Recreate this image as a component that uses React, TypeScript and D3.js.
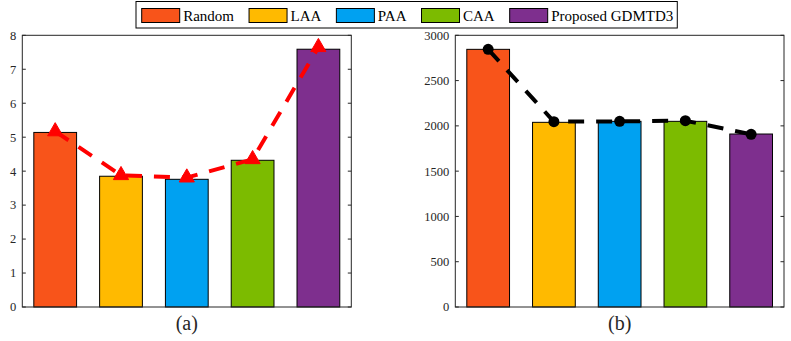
import React, { useEffect, useRef } from "react";
import * as d3 from "d3";

const categories = ["Random", "LAA", "PAA", "CAA", "Proposed GDMTD3"];
const colors = ["#F8541A", "#FFBA00", "#00A1F1", "#7CBB00", "#7E2F8E"];
const barsA = [5.14, 3.85, 3.76, 4.32, 7.59];
const lineA = [5.17, 3.88, 3.81, 4.35, 7.65];
const barsB = [2845, 2039, 2050, 2050, 1910];
const lineB = [2845, 2046, 2050, 2057, 1907];
const ticksA = [0, 1, 2, 3, 4, 5, 6, 7, 8];
const ticksB = [0, 500, 1000, 1500, 2000, 2500, 3000];
const panelLabels = ["(a)", "(b)"];

const W = 791;
const H = 341;
const FONT = "'Liberation Serif', 'DejaVu Serif', serif";
const AX = "#262626";

export default function App() {
  const ref = useRef<SVGSVGElement>(null);

  useEffect(() => {
    const svg = d3.select(ref.current);
    svg.selectAll("*").remove();

    const panels = [
      { x0: 22.3, x1: 351.3, bars: barsA, line: lineA, ticks: ticksA, max: 8, lineColor: "#FF0000", marker: "tri", label: panelLabels[0] },
      { x0: 455.3, x1: 784, bars: barsB, line: lineB, ticks: ticksB, max: 3000, lineColor: "#000000", marker: "circ", label: panelLabels[1] },
    ];
    const y0 = 35.3;
    const y1 = 307;

    panels.forEach((p) => {
      const g = svg.append("g");
      const x = d3.scaleLinear().domain([0.5, 5.5]).range([p.x0, p.x1]);
      const y = d3.scaleLinear().domain([0, p.max]).range([y1, y0]);
      const bw = (x(1) - x(0)) * 0.65;

      g.selectAll("rect.bar")
        .data(p.bars)
        .enter()
        .append("rect")
        .attr("x", (_d, i) => x(i + 1) - bw / 2)
        .attr("y", (d) => y(d))
        .attr("width", bw)
        .attr("height", (d) => y(0) - y(d))
        .attr("fill", (_d, i) => colors[i])
        .attr("stroke", "#000")
        .attr("stroke-width", 1);

      g.append("rect")
        .attr("x", p.x0)
        .attr("y", y0)
        .attr("width", p.x1 - p.x0)
        .attr("height", y1 - y0)
        .attr("fill", "none")
        .attr("stroke", AX)
        .attr("stroke-width", 1);

      p.ticks.forEach((t) => {
        const yy = y(t);
        g.append("line").attr("x1", p.x0).attr("x2", p.x0 + 3.5).attr("y1", yy).attr("y2", yy).attr("stroke", AX);
        g.append("line").attr("x1", p.x1).attr("x2", p.x1 - 3.5).attr("y1", yy).attr("y2", yy).attr("stroke", AX);
        g.append("text")
          .attr("x", p.x0 - 6)
          .attr("y", yy)
          .attr("dy", "0.35em")
          .attr("text-anchor", "end")
          .attr("font-family", FONT)
          .attr("font-size", 12.5)
          .attr("fill", AX)
          .text(String(t));
      });

      const lineGen = d3
        .line<number>()
        .x((_d, i) => x(i + 1))
        .y((d) => y(d));
      g.append("path")
        .datum(p.line)
        .attr("d", lineGen)
        .attr("fill", "none")
        .attr("stroke", p.lineColor)
        .attr("stroke-width", 4)
        .attr("stroke-dasharray", "16,12");

      if (p.marker === "tri") {
        const sym = d3.symbol().type(d3.symbolTriangle).size(100);
        g.selectAll("path.mk")
          .data(p.line)
          .enter()
          .append("path")
          .attr("d", sym as any)
          .attr("transform", (d, i) => `translate(${x(i + 1)},${y(d)})`)
          .attr("fill", p.lineColor)
          .attr("stroke", p.lineColor);
      } else {
        g.selectAll("circle.mk")
          .data(p.line)
          .enter()
          .append("circle")
          .attr("cx", (_d, i) => x(i + 1))
          .attr("cy", (d) => y(d))
          .attr("r", 5.5)
          .attr("fill", p.lineColor);
      }

      g.append("text")
        .attr("x", (p.x0 + p.x1) / 2)
        .attr("y", 330)
        .attr("text-anchor", "middle")
        .attr("font-family", FONT)
        .attr("font-size", 20)
        .attr("fill", AX)
        .text(p.label);
    });

    const lg = svg.append("g");
    const box = lg
      .append("rect")
      .attr("x", 136)
      .attr("y", 1.5)
      .attr("height", 26.5)
      .attr("fill", "#fff")
      .attr("stroke", "#000")
      .attr("stroke-width", 1);
    let cx = 141.7;
    categories.forEach((c, i) => {
      lg.append("rect")
        .attr("x", cx)
        .attr("y", 8.5)
        .attr("width", 38)
        .attr("height", 14)
        .attr("fill", colors[i])
        .attr("stroke", "#000")
        .attr("stroke-width", 1);
      const t = lg
        .append("text")
        .attr("x", cx + 41.5)
        .attr("y", 15.5)
        .attr("dy", "0.35em")
        .attr("font-family", FONT)
        .attr("font-size", 15)
        .attr("fill", "#000")
        .text(c);
      const tw = (t.node() as SVGTextElement).getComputedTextLength();
      cx = cx + 41.5 + tw + 15;
    });
    box.attr("width", cx - 15 + 4 - 136);
  }, []);

  return (
    <svg
      ref={ref}
      width={W}
      height={H}
      style={{ position: "absolute", left: 0, top: 0, background: "#fff" }}
    />
  );
}
